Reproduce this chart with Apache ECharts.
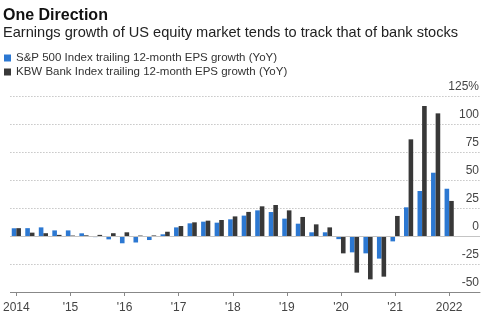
<!DOCTYPE html>
<html>
<head>
<meta charset="utf-8">
<script src="https://cdn.jsdelivr.net/npm/echarts@6/dist/echarts.min.js"></script>
<style>
html,body{margin:0;padding:0;background:#fff;}
#chart{width:485px;height:327px;}
</style>
</head>
<body>
<div id="chart"></div>
<script>
// Quarterly observations, 2014 Q1 .. 2022 Q1
var quarters = ['2014 Q1','2014 Q2','2014 Q3','2014 Q4','2015 Q1','2015 Q2','2015 Q3','2015 Q4',
  '2016 Q1','2016 Q2','2016 Q3','2016 Q4','2017 Q1','2017 Q2','2017 Q3','2017 Q4',
  '2018 Q1','2018 Q2','2018 Q3','2018 Q4','2019 Q1','2019 Q2','2019 Q3','2019 Q4',
  '2020 Q1','2020 Q2','2020 Q3','2020 Q4','2021 Q1','2021 Q2','2021 Q3','2021 Q4','2022 Q1'];
var sp500 = [6.9, 7, 7.7, 5, 5, 2.4, -1, -3, -6.5, -5.8, -3.6, 1.5, 7.7, 11.3, 12.8, 11.9,
  14.9, 18.2, 22.9, 21.4, 15.5, 11, 3.3, 3.3, -2.8, -14.6, -15.5, -20.2, -4.8, 25.6, 40.2, 56.5, 42.2];
var kbw = [7, 3, 2.5, 1, 0.4, 0.6, 1, 2.5, 3.3, 0.4, 0.5, 3.8, 8.9, 12.2, 13.7, 14.3,
  17.5, 21.5, 26.5, 27.7, 22.9, 17, 10.4, 7.7, -15.5, -32.7, -38.7, -36.3, 17.9, 86.3, 116, 109.5, 31.3];
var xTickLabels = ['2014', "'15", "'16", "'17", "'18", "'19", "'20", "'21", '2022'];
var xTickPositions = [0, 4, 8, 12, 16, 20, 24, 28, 32];
var yTickValues = [-50, -25, 0, 25, 50, 75, 100, 125];
var yTickLabels = ['-50', '-25', '0', '25', '50', '75', '100', '125%'];
var seriesNames = ['S&P 500 Index trailing 12-month EPS growth (YoY)', 'KBW Bank Index trailing 12-month EPS growth (YoY)'];

var FONT = '"Liberation Sans", Arial, sans-serif';
var BLUE = '#2c78d2';
var DARK = '#383838';

function pairs(arr){ return arr.map(function(v,i){ return [i, v]; }); }

var chart = echarts.init(document.getElementById('chart'), null, {renderer:'canvas'});
chart.setOption({
  animation: false,
  backgroundColor: '#ffffff',
  title: {
    text: 'One Direction',
    subtext: 'Earnings growth of US equity market tends to track that of bank stocks',
    left: 3, top: 8, padding: 0, itemGap: 1,
    textStyle: {fontFamily: FONT, fontWeight: 'bold', fontSize: 16, color: '#111', lineHeight: 16},
    subtextStyle: {fontFamily: FONT, fontSize: 14.6, color: '#222', lineHeight: 16}
  },
  legend: {
    orient: 'vertical', left: 4, top: 52, padding: 0,
    itemWidth: 7, itemHeight: 7, itemGap: 2,
    icon: 'rect',
    textStyle: {fontFamily: FONT, fontSize: 11.5, color: '#333', lineHeight: 12},
    data: seriesNames
  },
  grid: {left: 8, right: 5, top: 96, bottom: 35, containLabel: false},
  xAxis: {
    type: 'value', min: -0.44, max: 34.28,
    axisLine: {show: true, onZero: false, lineStyle: {color: '#888', width: 1}},
    axisTick: {show: true, customValues: xTickPositions, length: 4, lineStyle: {color: '#888'}},
    axisLabel: {
      show: true, customValues: xTickPositions, margin: 10,
      fontFamily: FONT, fontSize: 12, color: '#444',
      formatter: function(v){ var k = xTickPositions.indexOf(Math.round(v)); return k >= 0 ? xTickLabels[k] : ''; }
    },
    splitLine: {show: false}
  },
  yAxis: {
    type: 'value', position: 'right', min: -50, max: 125, interval: 25,
    axisLine: {show: false}, axisTick: {show: false},
    axisLabel: {
      inside: true, margin: 1, verticalAlign: 'bottom', padding: [0, 0, 3, 0],
      fontFamily: FONT, fontSize: 12, color: '#444',
      formatter: function(v){ var k = yTickValues.indexOf(v); return k >= 0 ? yTickLabels[k] : ''; }
    },
    splitLine: {show: true, lineStyle: {type: [1, 2], color: '#aaa', width: 1}}
  },
  series: [
    {
      name: seriesNames[0], type: 'bar', data: pairs(sp500),
      barWidth: 4.6, barGap: '0%', itemStyle: {color: BLUE},
      markLine: {
        silent: true, symbol: 'none', label: {show: false},
        lineStyle: {color: '#c4c4c4', type: 'solid', width: 1},
        data: [{yAxis: 0}]
      }
    },
    {
      name: seriesNames[1], type: 'bar', data: pairs(kbw),
      barWidth: 4.6, barGap: '0%', itemStyle: {color: DARK}
    }
  ]
});
</script>
</body>
</html>
